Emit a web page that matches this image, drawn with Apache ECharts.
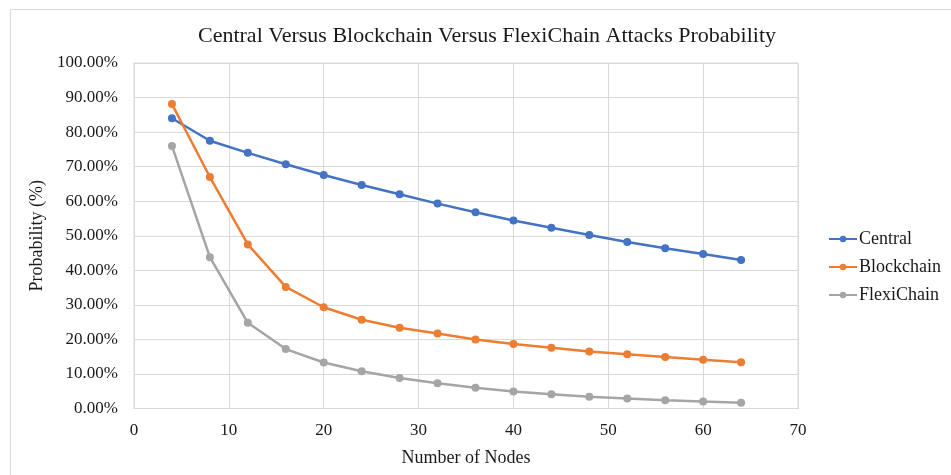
<!DOCTYPE html>
<html><head><meta charset="utf-8">
<script src="https://cdn.jsdelivr.net/npm/echarts@6/dist/echarts.min.js"></script>
<style>html,body{margin:0;padding:0;background:#fff}#c{width:951px;height:475px}</style>
</head><body><div id="c"></div>
<script>
var nodes = [4,8,12,16,20,24,28,32,36,40,44,48,52,56,60,64];
var central = [84.0,77.5,74.0,70.7,67.6,64.7,62.0,59.3,56.8,54.4,52.3,50.2,48.2,46.4,44.7,43.0];
var blockchain = [88.1,67.0,47.5,35.2,29.3,25.7,23.4,21.7,20.0,18.7,17.6,16.5,15.7,14.9,14.1,13.4];
var flexichain = [76.0,43.8,24.8,17.2,13.3,10.8,8.8,7.3,6.0,4.9,4.1,3.4,2.9,2.4,2.0,1.7];
var seriesNames = ['Central','Blockchain','FlexiChain'];
var colors = ['#4472C4','#ED7D31','#A5A5A5'];
function pairs(v){return nodes.map(function(x,i){return [x,v[i]];});}
var font = '"Liberation Serif","Times New Roman",serif';
var chart = echarts.init(document.getElementById('c'));
var mk = function(name, data, color){
  return {name:name,type:'line',data:pairs(data),symbol:'circle',symbolSize:8,
    lineStyle:{width:2.5,color:color},itemStyle:{color:color},animation:false};
};
chart.setOption({
  animation:false,
  graphic:[{type:'rect',shape:{x:10.5,y:9.5,width:2000,height:2000},style:{fill:'none',stroke:'#d9d9d9',lineWidth:1},silent:true}],
  title:{text:'Central Versus Blockchain Versus FlexiChain Attacks Probability',left:482,top:20,textAlign:'center',
    textStyle:{fontFamily:font,fontSize:22,fontWeight:'normal',color:'#1a1a1a'}},
  legend:{orient:'vertical',left:823,top:225,itemGap:10,itemWidth:28,itemHeight:8,
    textStyle:{fontFamily:font,fontSize:18,color:'#1a1a1a',padding:[0,0,0,-3]},data:seriesNames},
  grid:{left:134,right:153,top:63,bottom:66.5,containLabel:false,show:true,borderColor:'#d9d9d9',borderWidth:1},
  xAxis:{type:'value',min:0,max:70,interval:10,name:'Number of Nodes',nameLocation:'middle',nameGap:41,
    nameTextStyle:{fontFamily:font,fontSize:18,color:'#1a1a1a'},
    axisLine:{show:true,lineStyle:{color:'#d9d9d9'}},axisTick:{show:false},
    axisLabel:{fontFamily:font,fontSize:17,color:'#1a1a1a',margin:14},
    splitLine:{show:true,lineStyle:{color:'#d9d9d9'}}},
  yAxis:{type:'value',min:0,max:100,interval:10,name:'Probability (%)',nameLocation:'middle',nameGap:81,
    nameTextStyle:{fontFamily:font,fontSize:18,color:'#1a1a1a'},
    axisLine:{show:true,lineStyle:{color:'#d9d9d9'}},axisTick:{show:false},
    axisLabel:{fontFamily:font,fontSize:17,color:'#1a1a1a',margin:16,formatter:function(v){return v.toFixed(2)+'%';}},
    splitLine:{show:true,lineStyle:{color:'#d9d9d9'}}},
  series:[mk(seriesNames[0],central,colors[0]),mk(seriesNames[1],blockchain,colors[1]),mk(seriesNames[2],flexichain,colors[2])]
});
</script></body></html>
